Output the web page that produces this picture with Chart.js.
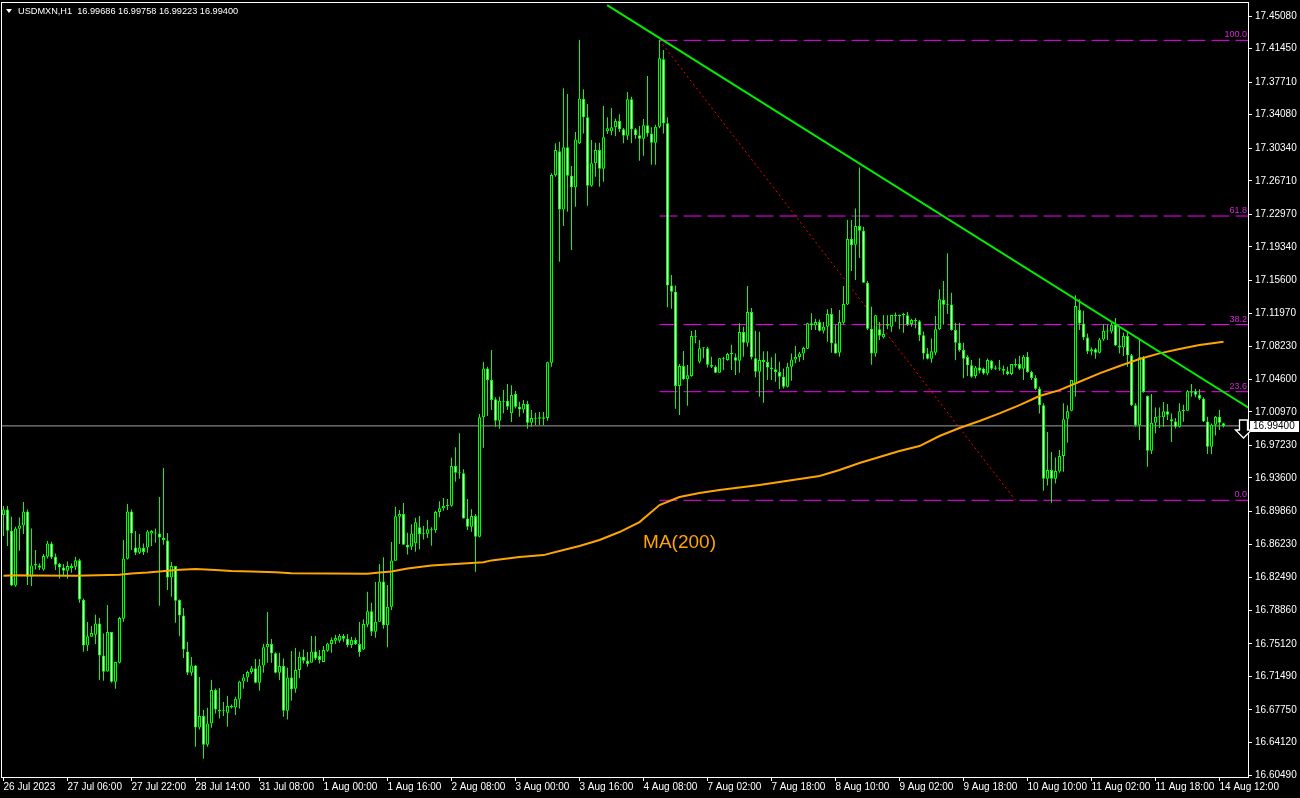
<!DOCTYPE html>
<html>
<head>
<meta charset="utf-8">
<title>USDMXN,H1</title>
<script src="https://cdn.jsdelivr.net/npm/chart.js@4.4.0/dist/chart.umd.min.js"></script>
<style>
    html, body { margin: 0; padding: 0; background: #000; }
    canvas { display: block; }
</style>
</head>
<body>
<canvas id="chart" width="1300" height="798"></canvas>
<script>
// H1 bars, bar 0 = 26 Jul 2023 14:00, last bar = 14 Aug 13:00
const openPrices = [
    16.8946, 16.9009, 16.8771, 16.8162, 16.8794, 16.8831, 16.8987, 16.8259, 16.8385, 16.8385,
    16.8340, 16.8482, 16.8630, 16.8482, 16.8400, 16.8363, 16.8326, 16.8378, 16.8370, 16.8444,
    16.7999, 16.7493, 16.7590, 16.7612, 16.7739, 16.7382, 16.7204, 16.7642, 16.7089, 16.7300,
    16.7791, 16.8459, 16.8987, 16.8586, 16.8526, 16.8578, 16.8586, 16.8742, 16.8749, 16.8742,
    16.8690, 16.8664, 16.8251, 16.8378, 16.7999, 16.7828, 16.7427, 16.7189, 16.7271, 16.6580,
    16.6706, 16.6386, 16.6624, 16.6996, 16.6773, 16.6765, 16.6743, 16.6817, 16.6802, 16.6892,
    16.7092, 16.7137, 16.7197, 16.7238, 16.7078, 16.7271, 16.7472, 16.7509, 16.7405, 16.7189,
    16.7264, 16.6766, 16.7137, 16.7011, 16.7219, 16.7368, 16.7323, 16.7301, 16.7427, 16.7375,
    16.7308, 16.7435, 16.7509, 16.7546, 16.7546, 16.7598, 16.7568, 16.7498, 16.7553, 16.7509,
    16.7449, 16.7724, 16.7873, 16.7646, 16.7758, 16.8207, 16.7717, 16.7925, 16.8438, 16.8928,
    16.8958, 16.8616, 16.8594, 16.8631, 16.8809, 16.8731, 16.8739, 16.8787, 16.8776, 16.8980,
    16.9021, 16.9047, 16.9051, 16.9493, 16.9418, 16.9411, 16.8909, 16.8817, 16.8935, 16.8705,
    17.0035, 17.0581, 17.0451, 17.0236, 16.9998, 17.0221, 17.0221, 17.0080, 17.0295, 17.0154,
    17.0124, 17.0184, 16.9976, 17.0028, 17.0020, 17.0035, 17.0028, 17.0644, 17.2732, 17.3000,
    17.2353, 17.3044, 17.2729, 17.2599, 17.3089, 17.3583, 17.3379, 17.2617, 17.2866, 17.3015,
    17.2807, 17.3223, 17.3223, 17.3267, 17.3338, 17.3245, 17.3174, 17.3579, 17.3245, 17.3178,
    17.3141, 17.3290, 17.3200, 17.3096, 17.3275, 17.4025, 17.3312, 17.1506, 17.1436, 17.0384,
    17.0607, 17.0459, 17.0496, 17.0942, 17.0656, 17.0804, 17.0804, 17.0622, 17.0600, 17.0533,
    17.0693, 17.0674, 17.0741, 17.0704, 17.0667, 17.0986, 17.0867, 17.1209, 17.0693, 17.0544,
    17.0674, 17.0652, 17.0592, 17.0570, 17.0540, 17.0488, 17.0377, 17.0600, 17.0681, 17.0707,
    17.0748, 17.0800, 17.1083, 17.1060, 17.1098, 17.1001, 17.1045, 17.1187, 17.0860, 17.0756,
    17.1090, 17.1294, 17.2023, 17.1959, 17.2167, 17.2115, 17.1536, 17.1023, 17.0748, 17.1016,
    17.0927, 17.1057, 17.1045, 17.1176, 17.1164, 17.1172, 17.1172, 17.1075, 17.1120, 17.1105,
    17.0949, 17.0748, 17.0689, 17.0756, 17.1016, 17.1343, 17.1291, 17.1294, 17.1008, 17.0867,
    17.0785, 17.0707, 17.0615, 17.0496, 17.0592, 17.0577, 17.0525, 17.0663, 17.0577, 17.0592,
    17.0577, 17.0548, 17.0518, 17.0629, 17.0629, 17.0577, 17.0711, 17.0540, 17.0473, 17.0354,
    17.0169, 16.9351, 16.9448, 16.9351, 16.9433, 16.9604, 17.0020, 17.0109, 17.0406, 17.1231,
    17.1082, 17.0926, 17.0770, 17.0793, 17.0756, 17.0904, 17.1001, 17.0993, 17.1068, 17.0837,
    17.0815, 17.0941, 17.0726, 17.0169, 16.9946, 17.0704, 17.0273, 16.9663, 16.9975, 17.0042,
    17.0035, 17.0102, 17.0013, 16.9990, 16.9931, 17.0102, 17.0109, 17.0310, 17.0325, 17.0287,
    17.0243, 16.9990, 16.9708, 16.9953, 17.0042, 16.99686
];

const highPrices = [
    16.9046, 16.9046, 16.8927, 16.8816, 16.8920, 16.9091, 16.9009, 16.8797, 16.8556, 16.8407,
    16.8511, 16.8656, 16.8649, 16.8519, 16.8415, 16.8400, 16.8430, 16.8407, 16.8482, 16.8459,
    16.8017, 16.7754, 16.7709, 16.7835, 16.7798, 16.7627, 16.7943, 16.7642, 16.7308, 16.7813,
    16.8667, 16.9069, 16.9009, 16.8768, 16.8734, 16.8630, 16.8779, 16.8779, 16.8797, 16.9147,
    16.9470, 16.8745, 16.8422, 16.8378, 16.8006, 16.7910, 16.7531, 16.7363, 16.7274, 16.7141,
    16.6773, 16.6799, 16.7107, 16.7014, 16.7018, 16.6862, 16.6929, 16.6836, 16.6921, 16.7100,
    16.7174, 16.7211, 16.7264, 16.7342, 16.7342, 16.7509, 16.7866, 16.7565, 16.7416, 16.7412,
    16.7349, 16.7245, 16.7431, 16.7464, 16.7423, 16.7449, 16.7420, 16.7598, 16.7598, 16.7442,
    16.7487, 16.7524, 16.7583, 16.7613, 16.7620, 16.7620, 16.7620, 16.7591, 16.7583, 16.7754,
    16.7784, 16.8092, 16.7970, 16.8200, 16.8401, 16.8475, 16.8166, 16.8646, 16.9039, 16.9002,
    16.9080, 16.8750, 16.8843, 16.8917, 16.8935, 16.8824, 16.8891, 16.8809, 16.8995, 16.9099,
    16.9136, 16.9125, 16.9586, 16.9701, 16.9857, 16.9456, 16.9125, 16.9010, 16.8958, 17.0072,
    17.0652, 17.0600, 17.0786, 17.0258, 17.0265, 17.0340, 17.0407, 17.0392, 17.0329, 17.0210,
    17.0228, 17.0221, 17.0117, 17.0087, 17.0095, 17.0095, 17.0656, 17.2755, 17.3089, 17.3107,
    17.3702, 17.3639, 17.2836, 17.3215, 17.4241, 17.3691, 17.3527, 17.3126, 17.3096, 17.3096,
    17.3505, 17.3379, 17.3483, 17.3364, 17.3412, 17.3260, 17.3661, 17.3609, 17.3260, 17.3282,
    17.3360, 17.3839, 17.3267, 17.3297, 17.4241, 17.4129, 17.3379, 17.1621, 17.1506, 17.0630,
    17.0774, 17.0618, 17.0997, 17.1008, 17.0897, 17.0815, 17.0823, 17.0711, 17.0615, 17.0696,
    17.0711, 17.0756, 17.0845, 17.0748, 17.1083, 17.1045, 17.1499, 17.1254, 17.1001, 17.0990,
    17.0771, 17.0771, 17.0704, 17.0748, 17.0655, 17.0581, 17.0644, 17.0748, 17.0830, 17.0763,
    17.0823, 17.1090, 17.1194, 17.1135, 17.1127, 17.1098, 17.1239, 17.1254, 17.1068, 17.1231,
    17.1499, 17.2234, 17.2234, 17.2364, 17.2821, 17.2160, 17.1554, 17.1268, 17.1179, 17.1098,
    17.1176, 17.1172, 17.1176, 17.1205, 17.1179, 17.1202, 17.1209, 17.1135, 17.1142, 17.1120,
    17.0993, 17.0808, 17.0915, 17.1164, 17.1462, 17.1554, 17.1863, 17.1424, 17.1090, 17.1090,
    17.0867, 17.0726, 17.0674, 17.0607, 17.0693, 17.0592, 17.0692, 17.0674, 17.0614, 17.0674,
    17.0614, 17.0600, 17.0629, 17.0692, 17.0722, 17.0730, 17.0763, 17.0555, 17.0503, 17.0377,
    17.0191, 16.9871, 16.9649, 16.9589, 16.9671, 17.0191, 17.0169, 17.0451, 17.1395, 17.1350,
    17.1224, 17.0971, 17.0815, 17.0808, 17.0919, 17.1075, 17.1068, 17.1090, 17.1142, 17.1038,
    17.0978, 17.0993, 17.0741, 17.0191, 17.0897, 17.0718, 17.0280, 17.0295, 17.0146, 17.0146,
    17.0206, 17.0183, 17.0079, 17.0027, 17.0191, 17.0176, 17.0339, 17.0406, 17.0354, 17.0347,
    17.0258, 17.0042, 16.9968, 17.0050, 17.0117, 16.99758
];

const lowPrices = [
    16.8712, 16.8601, 16.8155, 16.8147, 16.8549, 16.8734, 16.8166, 16.8155, 16.8340, 16.8333,
    16.8326, 16.8463, 16.8456, 16.8333, 16.8240, 16.8274, 16.8236, 16.8303, 16.8333, 16.7969,
    16.7423, 16.7430, 16.7590, 16.7508, 16.7107, 16.7100, 16.7200, 16.7077, 16.7011, 16.7293,
    16.7757, 16.8452, 16.8556, 16.8500, 16.8511, 16.8500, 16.8526, 16.8601, 16.8638, 16.7936,
    16.8615, 16.8110, 16.8036, 16.7746, 16.7597, 16.7352, 16.7163, 16.7155, 16.6364, 16.6557,
    16.6230, 16.6364, 16.6576, 16.6736, 16.6680, 16.6706, 16.6587, 16.6791, 16.6717, 16.6791,
    16.7011, 16.7085, 16.7175, 16.7071, 16.6989, 16.7189, 16.7301, 16.7301, 16.7182, 16.7108,
    16.6699, 16.6669, 16.6877, 16.6967, 16.7130, 16.7293, 16.7256, 16.7301, 16.7331, 16.7293,
    16.7308, 16.7423, 16.7412, 16.7509, 16.7524, 16.7535, 16.7472, 16.7464, 16.7498, 16.7368,
    16.7442, 16.7695, 16.7598, 16.7580, 16.7758, 16.7680, 16.7472, 16.7888, 16.8438, 16.8623,
    16.8616, 16.8508, 16.8557, 16.8538, 16.8564, 16.8675, 16.8690, 16.8605, 16.8750, 16.8921,
    16.8995, 16.9002, 16.9039, 16.9318, 16.9352, 16.8909, 16.8779, 16.8761, 16.8315, 16.8698,
    16.9697, 17.0050, 17.0117, 16.9931, 16.9909, 17.0080, 17.0117, 16.9983, 17.0135, 17.0043,
    17.0080, 16.9909, 16.9931, 16.9950, 16.9950, 16.9950, 16.9998, 17.0600, 17.2717, 17.1770,
    17.2168, 17.2327, 17.1900, 17.2383, 17.3081, 17.3200, 17.2394, 17.2606, 17.2717, 17.2606,
    17.2662, 17.3193, 17.3178, 17.3171, 17.3215, 17.3089, 17.3126, 17.3089, 17.3141, 17.2896,
    17.2951, 17.3163, 17.2851, 17.2851, 17.3256, 17.3200, 17.1261, 17.1246, 17.0132, 17.0061,
    17.0451, 17.0165, 17.0488, 17.0860, 17.0637, 17.0693, 17.0592, 17.0585, 17.0526, 17.0533,
    17.0563, 17.0667, 17.0563, 17.0507, 17.0533, 17.0711, 17.0823, 17.0681, 17.0481, 17.0265,
    17.0198, 17.0451, 17.0451, 17.0433, 17.0347, 17.0358, 17.0369, 17.0444, 17.0637, 17.0655,
    17.0674, 17.0797, 17.1008, 17.1008, 17.0993, 17.0971, 17.0878, 17.0756, 17.0748, 17.0711,
    17.1075, 17.1287, 17.1666, 17.1566, 17.1811, 17.1536, 17.1008, 17.0622, 17.0711, 17.0897,
    17.0915, 17.1016, 17.0990, 17.1101, 17.1016, 17.0979, 17.1053, 17.1045, 17.1027, 17.0886,
    17.0681, 17.0681, 17.0644, 17.0726, 17.1008, 17.1068, 17.1187, 17.1001, 17.0674, 17.0767,
    17.0470, 17.0496, 17.0477, 17.0470, 17.0525, 17.0510, 17.0503, 17.0562, 17.0562, 17.0555,
    17.0510, 17.0503, 17.0503, 17.0592, 17.0562, 17.0451, 17.0533, 17.0451, 17.0339, 17.0079,
    16.9218, 16.9277, 16.9084, 16.9299, 16.9418, 16.9429, 16.9753, 17.0102, 17.0265, 17.1008,
    17.0897, 17.0741, 17.0726, 17.0689, 17.0748, 17.0889, 17.0897, 17.0971, 17.0830, 17.0748,
    17.0718, 17.0600, 17.0161, 16.9931, 16.9782, 17.0310, 16.9485, 16.9626, 16.9857, 16.9916,
    16.9931, 17.0005, 16.9760, 16.9912, 16.9923, 16.9987, 17.0109, 17.0265, 17.0258, 17.0228,
    16.9983, 16.9626, 16.9626, 16.9834, 16.9894, 16.99223
];

const closePrices = [
    16.9009, 16.8771, 16.8162, 16.8797, 16.8831, 16.8987, 16.8259, 16.8385, 16.8400, 16.8359,
    16.8489, 16.8630, 16.8474, 16.8392, 16.8363, 16.8326, 16.8378, 16.8355, 16.8444, 16.8006,
    16.7493, 16.7597, 16.7631, 16.7739, 16.7382, 16.7200, 16.7642, 16.7089, 16.7308, 16.7798,
    16.8463, 16.8987, 16.8742, 16.8526, 16.8586, 16.8534, 16.8764, 16.8768, 16.8742, 16.8697,
    16.8667, 16.8251, 16.8378, 16.7991, 16.7828, 16.7449, 16.7189, 16.7271, 16.6580, 16.6706,
    16.6386, 16.6624, 16.6996, 16.6780, 16.6758, 16.6773, 16.6817, 16.6802, 16.6899, 16.7092,
    16.7137, 16.7196, 16.7238, 16.7078, 16.7271, 16.7472, 16.7509, 16.7405, 16.7189, 16.7264,
    16.6766, 16.7137, 16.7004, 16.7219, 16.7368, 16.7323, 16.7286, 16.7427, 16.7349, 16.7331,
    16.7442, 16.7516, 16.7553, 16.7576, 16.7602, 16.7568, 16.7498, 16.7553, 16.7509, 16.7420,
    16.7732, 16.7873, 16.7646, 16.7758, 16.8207, 16.7717, 16.7925, 16.8441, 16.8932, 16.8958,
    16.8616, 16.8586, 16.8742, 16.8865, 16.8731, 16.8739, 16.8787, 16.8776, 16.8980, 16.9021,
    16.9047, 16.9058, 16.9493, 16.9418, 16.9411, 16.8909, 16.8817, 16.8935, 16.8705, 17.0035,
    17.0581, 17.0451, 17.0228, 16.9998, 17.0221, 17.0210, 17.0154, 17.0284, 17.0154, 17.0124,
    17.0184, 16.9976, 17.0028, 17.0020, 17.0035, 17.0020, 17.0648, 17.2736, 17.3015, 17.2353,
    17.3044, 17.2729, 17.2599, 17.3133, 17.3590, 17.3379, 17.2617, 17.2866, 17.3015, 17.2807,
    17.3156, 17.3256, 17.3267, 17.3338, 17.3245, 17.3174, 17.3579, 17.3245, 17.3178, 17.3141,
    17.3290, 17.3200, 17.3096, 17.3275, 17.4036, 17.3312, 17.1506, 17.1436, 17.0384, 17.0607,
    17.0459, 17.0503, 17.0942, 17.0934, 17.0804, 17.0812, 17.0622, 17.0600, 17.0533, 17.0693,
    17.0682, 17.0741, 17.0756, 17.0667, 17.0986, 17.0867, 17.1209, 17.0704, 17.0544, 17.0674,
    17.0652, 17.0592, 17.0570, 17.0540, 17.0488, 17.0377, 17.0600, 17.0681, 17.0707, 17.0748,
    17.0808, 17.1083, 17.1060, 17.1098, 17.1001, 17.1045, 17.1187, 17.0860, 17.0748, 17.1098,
    17.1298, 17.2023, 17.1952, 17.2167, 17.2115, 17.1536, 17.1023, 17.0748, 17.1172, 17.0945,
    17.0964, 17.1075, 17.1176, 17.1164, 17.1176, 17.1187, 17.1068, 17.1120, 17.1105, 17.0949,
    17.0748, 17.0689, 17.0771, 17.1016, 17.1350, 17.1291, 17.1298, 17.1008, 17.0867, 17.0785,
    17.0689, 17.0615, 17.0488, 17.0592, 17.0555, 17.0525, 17.0674, 17.0577, 17.0592, 17.0577,
    17.0555, 17.0518, 17.0629, 17.0614, 17.0577, 17.0711, 17.0540, 17.0473, 17.0354, 17.0169,
    16.9351, 16.9448, 16.9351, 16.9437, 16.9604, 17.0013, 17.0102, 17.0451, 17.1276, 17.1082,
    17.0926, 17.0770, 17.0793, 17.0756, 17.0904, 17.1001, 17.0993, 17.1068, 17.0837, 17.0815,
    17.0941, 17.0726, 17.0169, 16.9946, 17.0704, 17.0317, 16.9663, 16.9975, 17.0042, 17.0050,
    17.0102, 17.0065, 16.9990, 16.9931, 17.0102, 17.0117, 17.0325, 17.0325, 17.0287, 17.0243,
    16.9990, 16.9708, 16.9953, 17.0042, 16.9975, 16.99400
];

// MA(200) at these bars
const maBars = [
    0, 3, 7, 18, 29, 32, 36, 39, 43, 48, 53, 57, 62, 68, 72, 91, 94, 97, 99, 101,
    103, 105, 107, 111, 115, 120, 122, 129, 135, 139, 144, 149, 154, 159, 164, 169, 174, 179, 189, 199,
    204, 209, 214, 219, 224, 229, 234, 239, 244, 249, 254, 259, 264, 269, 274, 279, 284, 289, 294, 299, 305
];
const maValues = [
    16.8270, 16.8276, 16.8272, 16.8270, 16.8280, 16.8295, 16.8305, 16.8318, 16.8335, 16.8345,
    16.8333, 16.8324, 16.8318, 16.8310, 16.8298, 16.8293, 16.8306, 16.8318, 16.8335, 16.8350,
    16.8362, 16.8373, 16.8384, 16.8395, 16.8406, 16.8420, 16.8441, 16.8478, 16.8500, 16.8545,
    16.8601, 16.8668, 16.8757, 16.8868, 16.9058, 16.9147, 16.9191, 16.9225, 16.9281, 16.9348,
    16.9381, 16.9448, 16.9526, 16.9593, 16.9660, 16.9715, 16.9827, 16.9916, 16.9994, 17.0080,
    17.0172, 17.0273, 17.0339, 17.0432, 17.0526, 17.0607, 17.0685, 17.0748, 17.0796, 17.0841, 17.0878
];

const xTickBars = [0, 16, 32, 48, 64, 80, 96, 112, 128, 144, 160, 176, 192, 208, 224, 240, 256, 272, 288, 304];
const xTickLabels = [
    '26 Jul 2023', '27 Jul 06:00', '27 Jul 22:00', '28 Jul 14:00', '31 Jul 08:00',
    '1 Aug 00:00', '1 Aug 16:00', '2 Aug 08:00', '3 Aug 00:00', '3 Aug 16:00',
    '4 Aug 08:00', '7 Aug 02:00', '7 Aug 18:00', '8 Aug 10:00', '9 Aug 02:00',
    '9 Aug 18:00', '10 Aug 10:00', '11 Aug 02:00', '11 Aug 18:00', '14 Aug 12:00'
];
const yTickValues = [
    17.45080, 17.41450, 17.37710, 17.34080, 17.30340, 17.26710, 17.22970, 17.19340,
    17.15600, 17.11970, 17.08230, 17.04600, 17.00970, 16.97230, 16.93600, 16.89860,
    16.86230, 16.82490, 16.78860, 16.75120, 16.71490, 16.67750, 16.64120, 16.60490
];

// Fibonacci retracement drawn from the 4 Aug high to the 10 Aug low
const fibLabels = ['0.0', '23.6', '38.2', '61.8', '100.0'];
const fibPrices = [16.9111, 17.0321, 17.1069, 17.2279, 17.4237];
const fibStartBar = 164;
const fibDiagBars = [164, 253];
const fibDiagPrices = [17.4237, 16.9111];

// falling trend line through the highs
const trendBars = [150.9, 312];
const trendPrices = [17.4630, 17.0122];

const bidPrice = 16.99400;
const headerText = 'USDMXN,H1  16.99686 16.99758 16.99223 16.99400';
const arrowBar = 309.8;

const colors = {
    candle: '#00ff00',
    bull: '#000000',
    bear: '#ffffff',
    ma: '#ffa500',
    trend: '#00ee00',
    fib: '#ff00ff',
    fibText: '#dd22dd',
    diag: '#ff0000',
    bid: '#a0a0a0',
    text: '#ffffff'
};

const FONT = '"Liberation Sans", Arial, sans-serif';

function buildCandles() {
    const wicks = [];
    const bodies = [];
    const fills = [];
    for (let i = 0; i < closePrices.length; i++) {
        wicks.push({ x: i, y: [lowPrices[i], highPrices[i]] });
        bodies.push({ x: i, y: [openPrices[i], closePrices[i]] });
        fills.push(closePrices[i] >= openPrices[i] ? colors.bull : colors.bear);
    }
    return { wicks, bodies, fills };
}

function lineSet(points, color, width, dash, order) {
    return {
        type: 'line',
        data: points,
        borderColor: color,
        borderWidth: width,
        borderDash: dash || [],
        pointRadius: 0,
        pointHoverRadius: 0,
        tension: 0,
        fill: false,
        order: order
    };
}

const candles = buildCandles();

const datasets = [];
datasets.push(lineSet([{ x: -1, y: bidPrice }, { x: 312, y: bidPrice }], colors.bid, 1, null, 10));
fibPrices.forEach(function(p) {
    datasets.push(lineSet([{ x: fibStartBar, y: p }, { x: 312, y: p }], colors.fib, 1, [18, 6], 9));
});
datasets.push(lineSet(fibDiagBars.map((b, i) => ({ x: b, y: fibDiagPrices[i] })), colors.diag, 1, [2, 3], 8));
datasets.push({
    type: 'bar',
    data: candles.wicks,
    backgroundColor: colors.candle,
    borderWidth: 0,
    barThickness: 1,
    grouped: false,
    inflateAmount: 0,
    order: 7
});
datasets.push({
    type: 'bar',
    data: candles.bodies,
    backgroundColor: candles.fills,
    borderColor: colors.candle,
    borderWidth: 1,
    borderSkipped: false,
    barThickness: 3,
    minBarLength: 1,
    grouped: false,
    inflateAmount: 0,
    order: 6
});
datasets.push(lineSet(maBars.map((b, i) => ({ x: b, y: maValues[i] })), colors.ma, 2, null, 5));
datasets.push(lineSet(trendBars.map((b, i) => ({ x: b, y: trendPrices[i] })), colors.trend, 2, null, 4));

/**
 * Frame, header, fibo captions, MA caption, price tag and sell arrow
 */
const overlayPlugin = {
    id: 'overlay',
    afterDatasetsDraw(chart) {
        const { ctx, chartArea: a, scales: { x, y } } = chart;
        ctx.save();

        // frame
        ctx.strokeStyle = colors.text;
        ctx.lineWidth = 1;
        ctx.strokeRect(a.left - 0.5, a.top - 0.5, a.right - a.left + 1, a.bottom - a.top + 1);

        // header
        ctx.fillStyle = colors.text;
        ctx.beginPath();
        ctx.moveTo(6, 9);
        ctx.lineTo(12, 9);
        ctx.lineTo(9, 13);
        ctx.closePath();
        ctx.fill();
        ctx.font = '9.2px ' + FONT;
        ctx.textAlign = 'left';
        ctx.textBaseline = 'alphabetic';
        ctx.fillText(headerText, 18, 14);

        // fibo level captions
        ctx.fillStyle = colors.fibText;
        ctx.font = '9px ' + FONT;
        ctx.textAlign = 'right';
        ctx.textBaseline = 'bottom';
        fibPrices.forEach(function(p, i) {
            ctx.fillText(fibLabels[i], a.right - 1, y.getPixelForValue(p) - 1);
        });

        // MA caption
        ctx.fillStyle = colors.ma;
        ctx.font = '19px ' + FONT;
        ctx.textAlign = 'left';
        ctx.textBaseline = 'middle';
        ctx.fillText('MA(200)', x.getPixelForValue(159.9), y.getPixelForValue(16.8634));

        // current price tag on the axis
        const by = Math.round(y.getPixelForValue(bidPrice));
        ctx.fillStyle = '#ffffff';
        ctx.fillRect(a.right + 2, by - 5, 49, 11);
        ctx.fillStyle = '#000000';
        ctx.font = '10px ' + FONT;
        ctx.textAlign = 'left';
        ctx.textBaseline = 'middle';
        ctx.fillText(bidPrice.toFixed(5), a.right + 5, by + 0.5);

        // sell arrow
        const cx = Math.round(x.getPixelForValue(arrowBar)) + 0.5;
        ctx.beginPath();
        ctx.moveTo(cx - 4, by - 6);
        ctx.lineTo(cx + 4, by - 6);
        ctx.lineTo(cx + 4, by + 4);
        ctx.lineTo(cx + 8, by + 4);
        ctx.lineTo(cx, by + 12);
        ctx.lineTo(cx - 8, by + 4);
        ctx.lineTo(cx - 4, by + 4);
        ctx.closePath();
        ctx.fillStyle = '#000000';
        ctx.fill();
        ctx.strokeStyle = '#ffffff';
        ctx.lineWidth = 1.3;
        ctx.stroke();

        ctx.restore();
    }
};

Chart.defaults.font.family = FONT;
Chart.defaults.font.size = 10;
Chart.defaults.color = colors.text;

new Chart(document.getElementById('chart'), {
    type: 'bar',
    data: { datasets: datasets },
    options: {
        responsive: false,
        devicePixelRatio: 1,
        animation: false,
        events: [],
        layout: { padding: { left: 2, top: 3, right: 0, bottom: 0 } },
        plugins: {
            legend: { display: false },
            tooltip: { enabled: false }
        },
        scales: {
            x: {
                type: 'linear',
                min: -0.375,
                max: 311.125,
                offset: false,
                afterBuildTicks: function(scale) {
                    scale.ticks = xTickBars.map(v => ({ value: v }));
                },
                afterFit: function(scale) {
                    scale.height = 21;
                    scale.paddingLeft = 0;
                    scale.paddingRight = 0;
                },
                ticks: {
                    autoSkip: false,
                    maxRotation: 0,
                    align: 'start',
                    padding: 0,
                    color: colors.text,
                    callback: function(value, index) { return xTickLabels[index]; }
                },
                grid: { offset: false, drawOnChartArea: false, drawTicks: true, tickLength: 4, color: colors.text },
                border: { display: false }
            },
            y: {
                type: 'linear',
                position: 'right',
                min: 16.6027,
                max: 17.4653,
                afterBuildTicks: function(scale) {
                    scale.ticks = yTickValues.map(v => ({ value: v }));
                },
                afterFit: function(scale) {
                    scale.width = 52;
                    scale.paddingTop = 0;
                    scale.paddingBottom = 0;
                },
                ticks: {
                    padding: 3,
                    color: colors.text,
                    callback: function(value) { return Number(value).toFixed(5); }
                },
                grid: { drawOnChartArea: false, drawTicks: true, tickLength: 4, color: colors.text },
                border: { display: false }
            }
        }
    },
    plugins: [overlayPlugin]
});
</script>
</body>
</html>
